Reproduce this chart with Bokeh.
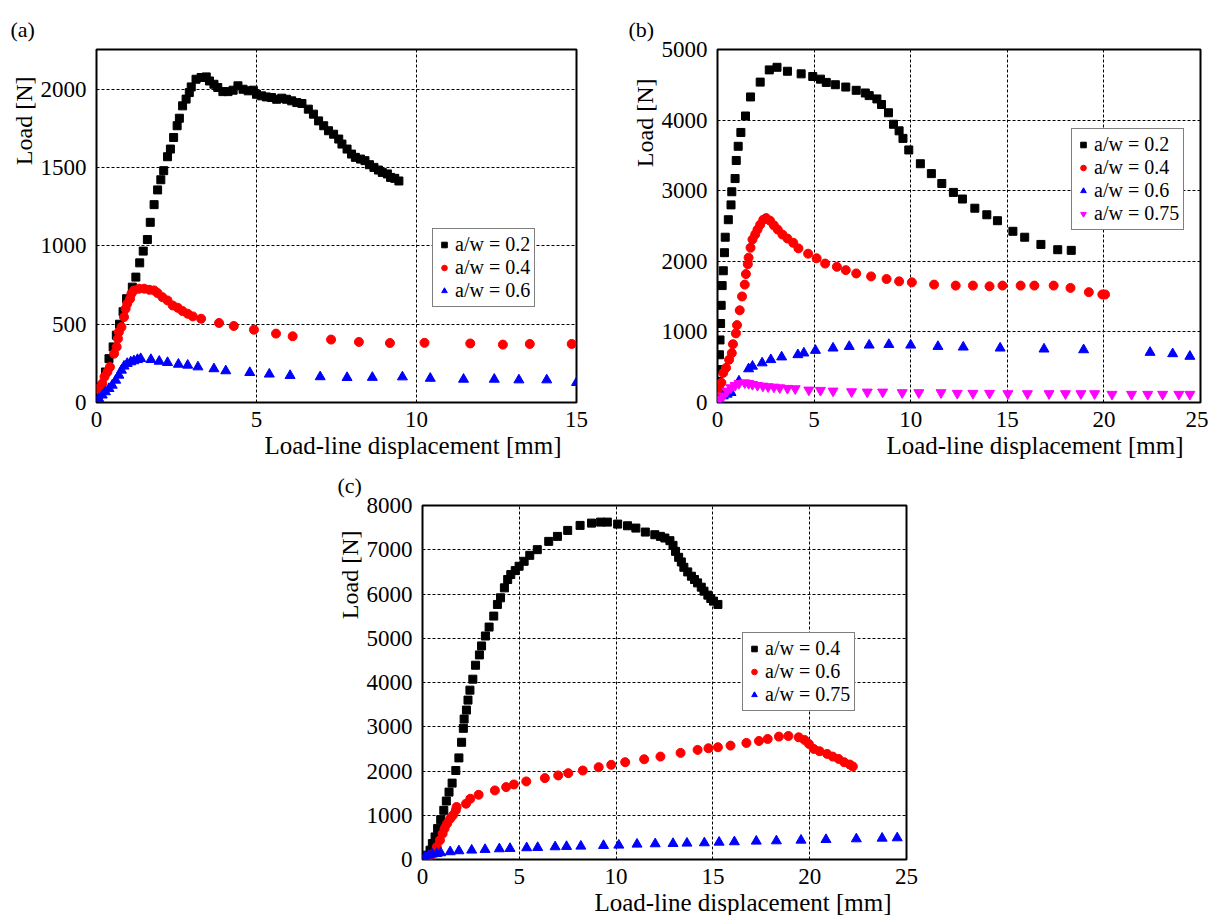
from bokeh.plotting import figure
from bokeh.layouts import column, row
from bokeh.models import (Range1d, FixedTicker, Legend, LegendItem, Title)
from bokeh.embed import file_html
from bokeh.resources import INLINE

FONT = "Liberation Serif"

# ---------------- data: panel (a) ----------------
a_ticks_x = [0, 5, 10, 15]
a_ticks_y = [0, 500, 1000, 1500, 2000]

a02_x = [0.05, 0.15, 0.28, 0.39, 0.52, 0.62, 0.72, 0.83, 0.94, 1.12, 1.23, 1.35, 1.46, 1.59, 1.68, 1.80, 1.91, 2.01,
         2.10, 2.22, 2.31, 2.41, 2.52, 2.59, 2.69, 2.80, 2.90, 2.96, 3.11, 3.27, 3.43, 3.53, 3.67, 3.79, 3.95, 4.11,
         4.27, 4.42, 4.58, 4.74, 4.90, 5.00, 5.16, 5.31, 5.47, 5.63, 5.79, 5.94, 6.10, 6.26, 6.42, 6.62, 6.78, 6.94,
         7.10, 7.25, 7.41, 7.57, 7.67, 7.83, 7.97, 8.09, 8.25, 8.39, 8.53, 8.67, 8.81, 8.93, 9.09, 9.19, 9.32, 9.45]
a02_y = [25, 100, 195, 280, 355, 430, 500, 580, 663, 737, 801, 892, 967, 1041, 1151, 1264, 1358, 1423,
         1481, 1570, 1619, 1693, 1768, 1816, 1895, 1938, 1980, 2016, 2065, 2076, 2080, 2054, 2033, 2012, 1986, 1986,
         1995, 2023, 2001, 1991, 1995, 1969, 1959, 1952, 1948, 1937, 1944, 1937, 1927, 1916, 1910, 1874, 1842, 1799,
         1768, 1736, 1714, 1683, 1651, 1619, 1587, 1566, 1555, 1545, 1519, 1502, 1485, 1470, 1460, 1438, 1432, 1415]

a04_x = [0.07, 0.18, 0.25, 0.34, 0.42, 0.55, 0.63, 0.67, 0.70, 0.78, 0.86, 0.91, 0.96, 1.05, 1.09, 1.17, 1.33, 1.49,
         1.65, 1.80, 1.91, 2.06, 2.22, 2.38, 2.54, 2.69, 2.85, 3.01, 3.27, 3.83, 4.29, 4.92, 5.61, 6.13, 7.33, 8.20,
         9.17, 10.25, 11.68, 12.70, 13.54, 14.85]
a04_y = [89, 121, 164, 195, 227, 312, 355, 408, 450, 482, 546, 599, 631, 663, 695, 716, 727, 727,
         720, 716, 699, 673, 652, 620, 605, 584, 567, 550, 535, 508, 489, 465, 440, 423, 402, 387,
         380, 381, 377, 370, 374, 374]

a06_x = [0.07, 0.18, 0.28, 0.39, 0.49, 0.60, 0.70, 0.78, 0.86, 0.96, 1.07, 1.17, 1.28, 1.38, 1.70, 1.96, 2.22, 2.56,
         2.85, 3.17, 3.67, 4.04, 4.79, 5.40, 6.05, 6.99, 7.83, 8.62, 9.56, 10.43, 11.47, 12.43, 13.20, 14.07, 15.0]
a06_y = [25, 47, 68, 89, 110, 142, 174, 206, 232, 249, 259, 266, 274, 280, 274, 263, 255, 244,
         238, 227, 215, 202, 191, 181, 172, 164, 159, 160, 163, 154, 148, 148, 144, 144, 127]

# ---------------- data: panel (b) ----------------
b_ticks_x = [0, 5, 10, 15, 20, 25]
b_ticks_y = [0, 1000, 2000, 3000, 4000, 5000]

b02_x = [0.03, 0.05, 0.08, 0.10, 0.13, 0.16, 0.19, 0.24, 0.30, 0.36, 0.40, 0.56, 0.70, 0.74, 0.91, 0.97, 1.07, 1.21,
         1.45, 1.71, 2.21, 2.68, 3.08, 3.62, 4.33, 4.93, 5.33, 5.63, 6.10, 6.64, 7.18, 7.65, 7.85, 8.25, 8.49, 8.85,
         9.11, 9.40, 9.60, 9.90, 10.50, 11.07, 11.61, 12.21, 12.68, 13.32, 13.94, 14.49, 15.29, 15.90, 16.74, 17.61,
         18.31]
b02_y = [100, 300, 466, 676, 886, 1119, 1376, 1656, 1866, 2122, 2341, 2589, 2799, 2985, 3172, 3428, 3629, 3825,
         4058, 4328, 4538, 4711, 4748, 4692, 4655, 4618, 4580, 4534, 4501, 4468, 4422, 4384, 4347, 4300, 4221, 4104,
         3941, 3848, 3741, 3577, 3382, 3242, 3102, 2976, 2882, 2752, 2659, 2575, 2425, 2341, 2239, 2164,
         2155]

b04_x = [0.05, 0.10, 0.20, 0.30, 0.44, 0.60, 0.74, 0.80, 0.95, 1.01, 1.15, 1.27, 1.41, 1.47, 1.57, 1.61, 1.71, 1.81,
         1.95, 2.07, 2.21, 2.37, 2.52, 2.72, 2.92, 3.12, 3.36, 3.62, 3.92, 4.19, 4.69, 5.13, 5.57, 6.18, 6.64, 7.18,
         7.95, 8.75, 9.40, 10.06, 11.21, 12.33, 13.22, 14.08, 14.75, 15.69, 16.40, 17.40, 18.27, 19.22, 19.92, 20.06]
b04_y = [80, 180, 280, 420, 490, 606, 700, 826, 979, 1096, 1306, 1502, 1670, 1819, 1959, 2052, 2192, 2309,
         2379, 2449, 2519, 2589, 2612, 2575, 2509, 2449, 2379, 2323, 2262, 2183, 2108, 2043, 1968, 1922, 1875, 1828,
         1786, 1749, 1716, 1702, 1670, 1656, 1656, 1646, 1656, 1656, 1656, 1656, 1623, 1563, 1530, 1530]

b06_x = [0.10, 0.30, 0.50, 0.70, 1.11, 1.61, 1.81, 2.31, 2.76, 3.32, 4.16, 4.47, 5.07, 5.98, 6.82, 7.85, 8.87, 10.0,
         11.41, 12.72, 14.63, 16.90, 18.95, 22.39, 23.56, 24.45]
b06_y = [20, 93, 117, 140, 303, 476, 513, 560, 606, 644, 676, 700, 737, 770, 793, 812, 821, 812,
         793, 784, 770, 756, 746, 709, 690, 653]

b075_x = [0.10, 0.30, 0.50, 0.70, 0.91, 1.11, 1.41, 1.61, 1.81, 2.07, 2.35, 2.62, 2.92, 3.22, 3.62, 4.02, 4.73, 5.33,
          5.98, 6.94, 7.75, 8.55, 9.56, 10.42, 11.57, 12.41, 13.22, 14.08, 15.03, 16.04, 17.16, 18.01, 18.81, 19.52,
          20.42, 21.43, 22.27, 23.04, 23.88, 24.45]
b075_y = [47, 93, 163, 210, 243, 271, 280, 271, 257, 243, 233, 224, 219, 210, 201, 196, 177, 173,
          163, 154, 149, 149, 140, 140, 140, 131, 131, 131, 126, 126, 126, 126, 126, 126,
          117, 117, 117, 117, 117, 117]

# ---------------- data: panel (c) ----------------
c_ticks_x = [0, 5, 10, 15, 20, 25]
c_ticks_y = [0, 1000, 2000, 3000, 4000, 5000, 6000, 7000, 8000]

c04_x = [0.25, 0.39, 0.51, 0.65, 0.78, 0.94, 1.10, 1.23, 1.37, 1.53, 1.72, 1.88, 2.02, 2.11, 2.15, 2.27, 2.35, 2.45,
         2.60, 2.74, 2.94, 3.05, 3.25, 3.44, 3.68, 3.87, 4.03, 4.23, 4.40, 4.56, 4.79, 4.99, 5.25, 5.54, 5.93, 6.52,
         6.97, 7.50, 8.14, 8.73, 9.20, 9.55, 10.08, 10.59, 11.02, 11.51, 12.00, 12.29, 12.52, 12.78, 12.94, 13.07,
         13.23, 13.37, 13.50, 13.70, 13.89, 14.05, 14.21, 14.40, 14.54, 14.74, 14.89, 15.03, 15.26]
c04_y = [98, 210, 360, 510, 698, 901, 1111, 1321, 1523, 1726, 2011, 2296, 2649, 2964, 3174, 3377, 3602, 3827,
         4075, 4390, 4623, 4826, 5051, 5253, 5501, 5764, 5914, 6139, 6327, 6439, 6529, 6627, 6739, 6874, 7002, 7189,
         7302, 7437, 7550, 7602, 7625, 7625, 7580, 7542, 7490, 7400, 7340, 7302, 7265, 7205, 7099, 6964,
         6829, 6724, 6604, 6499, 6402, 6327, 6251, 6154, 6064, 5974, 5899, 5839, 5764]

c06_x = [0.25, 0.45, 0.65, 0.74, 0.90, 1.04, 1.14, 1.27, 1.43, 1.57, 1.72, 1.76, 2.25, 2.47, 2.90, 3.74, 4.32, 4.72,
         5.36, 6.32, 7.01, 7.53, 8.28, 9.10, 9.75, 10.47, 11.45, 12.29, 13.33, 14.21, 14.77, 15.26, 15.91, 16.73,
         17.38, 17.83, 18.41, 18.90, 19.43, 19.73, 19.96, 20.21, 20.51, 20.90, 21.19, 21.49, 21.78, 22.07, 22.23]
c06_y = [60, 98, 173, 285, 435, 585, 698, 811, 923, 998, 1111, 1186, 1261, 1373, 1463, 1561, 1636, 1696,
         1764, 1839, 1899, 1951, 2011, 2086, 2139, 2199, 2266, 2326, 2409, 2477, 2514, 2537, 2574, 2634,
         2679, 2724, 2777, 2792, 2762, 2702, 2612, 2499, 2447, 2387, 2326, 2274, 2199, 2146, 2101]

c075_x = [0.12, 0.31, 0.51, 0.74, 0.94, 1.43, 1.88, 2.54, 3.23, 3.97, 4.52, 5.38, 5.95, 6.85, 7.44, 8.18, 9.35, 10.14,
          11.08, 12.02, 12.94, 13.66, 14.56, 15.32, 16.11, 17.24, 18.28, 19.55, 20.84, 22.41, 23.74, 24.52]
c075_y = [60, 98, 120, 135, 150, 173, 195, 210, 225, 240, 248, 263, 270, 285, 293, 300, 315, 323,
          345, 353, 360, 368, 375, 390, 398, 413, 420, 435, 450, 465, 480, 488]

x_title = "Load-line displacement [mm]"
y_title = "Load [N]"

STYLE = {
    "square": dict(marker="square", size=8, color="#000000"),
    "circle": dict(marker="circle", size=9, color="#ff0000"),
    "triangle": dict(marker="triangle", size=10, color="#0000ff"),
    "inv": dict(marker="inverted_triangle", size=10, color="#ff00ff"),
}


def make_panel(width, height, borders, xr, yr, xt, yt, tag, tag_off, ylab_off, xlab_off):
    l, r, t, b = borders
    p = figure(width=width, height=height, output_backend="svg", toolbar_location=None,
               x_range=Range1d(*xr), y_range=Range1d(*yr),
               min_border_left=l, min_border_right=r, min_border_top=t, min_border_bottom=b)
    p.outline_line_color = "black"
    p.outline_line_width = 2
    p.outline_line_alpha = 1
    for ax, ticks in ((p.xaxis[0], xt), (p.yaxis[0], yt)):
        ax.ticker = FixedTicker(ticks=ticks)
        ax.axis_line_color = None
        ax.major_tick_line_color = None
        ax.minor_tick_line_color = None
        ax.major_label_text_font = FONT
        ax.major_label_text_font_size = "23px"
        ax.major_label_text_color = "black"
        ax.major_label_standoff = 4
    p.xaxis[0].major_label_standoff = 3
    for g in (p.xgrid[0], p.ygrid[0]):
        g.grid_line_color = "black"
        g.grid_line_width = 1
        g.grid_line_dash = "3 2"
        g.grid_line_alpha = 1
    # panel tag as the plot title
    p.title.text = tag
    p.title.align = "left"
    p.title.offset = tag_off
    p.title.standoff = 15
    p.title.text_font = FONT
    p.title.text_font_size = "22px"
    p.title.text_font_style = "normal"
    p.title.text_color = "black"
    # axis titles (right-aligned = top end for the vertical one, right end for the horizontal one)
    p.add_layout(Title(text=y_title, align="right", offset=ylab_off, standoff=2, text_font=FONT,
                       text_font_size="24px", text_font_style="normal", text_color="black"), "left")
    p.add_layout(Title(text=x_title, align="right", offset=xlab_off, standoff=0, text_font=FONT,
                       text_font_size="25px", text_font_style="normal", text_color="black"), "below")
    return p


def add_series(p, series, loc):
    items = []
    for xs, ys, style, label in series:
        st = STYLE[style]
        rr = p.scatter(xs, ys, marker=st["marker"], size=st["size"], fill_color=st["color"],
                       line_color=st["color"])
        items.append(LegendItem(label=label, renderers=[rr]))
    leg = Legend(items=items, location=loc, border_line_color="black", border_line_width=1.5,
                 background_fill_color="white", background_fill_alpha=1, padding=4, spacing=0, margin=0,
                 glyph_width=14, glyph_height=19, label_height=19, label_standoff=4,
                 label_text_font=FONT, label_text_font_size="20px", label_text_color="black")
    p.add_layout(leg)


pa = make_panel(608, 460, (96, 32, 49, 58), (0, 15), (0, 2255), a_ticks_x, a_ticks_y,
                "(a)", -86, 27, 15)
add_series(pa, [(a02_x, a02_y, "square", "a/w = 0.2"),
                (a04_x, a04_y, "circle", "a/w = 0.4"),
                (a06_x, a06_y, "triangle", "a/w = 0.6")], (336, 95))

pb = make_panel(600, 460, (109, 8, 46, 57), (0, 25), (0, 5000), b_ticks_x, b_ticks_y,
                "(b)", -89, 29, 17)
add_series(pb, [(b02_x, b02_y, "square", "a/w = 0.2"),
                (b04_x, b04_y, "circle", "a/w = 0.4"),
                (b06_x, b06_y, "triangle", "a/w = 0.6"),
                (b075_x, b075_y, "inv", "a/w = 0.75")], (354, 172))

pc = make_panel(920, 455, (422, 14, 45, 54), (0, 25), (0, 8000), c_ticks_x, c_ticks_y,
                "(c)", -85, 25, 15)
add_series(pc, [(c04_x, c04_y, "square", "a/w = 0.4"),
                (c06_x, c06_y, "circle", "a/w = 0.6"),
                (c075_x, c075_y, "triangle", "a/w = 0.75")], (320, 148))

layout = column(row(pa, pb), pc)
open("out.html", "w").write(file_html(layout, INLINE))
